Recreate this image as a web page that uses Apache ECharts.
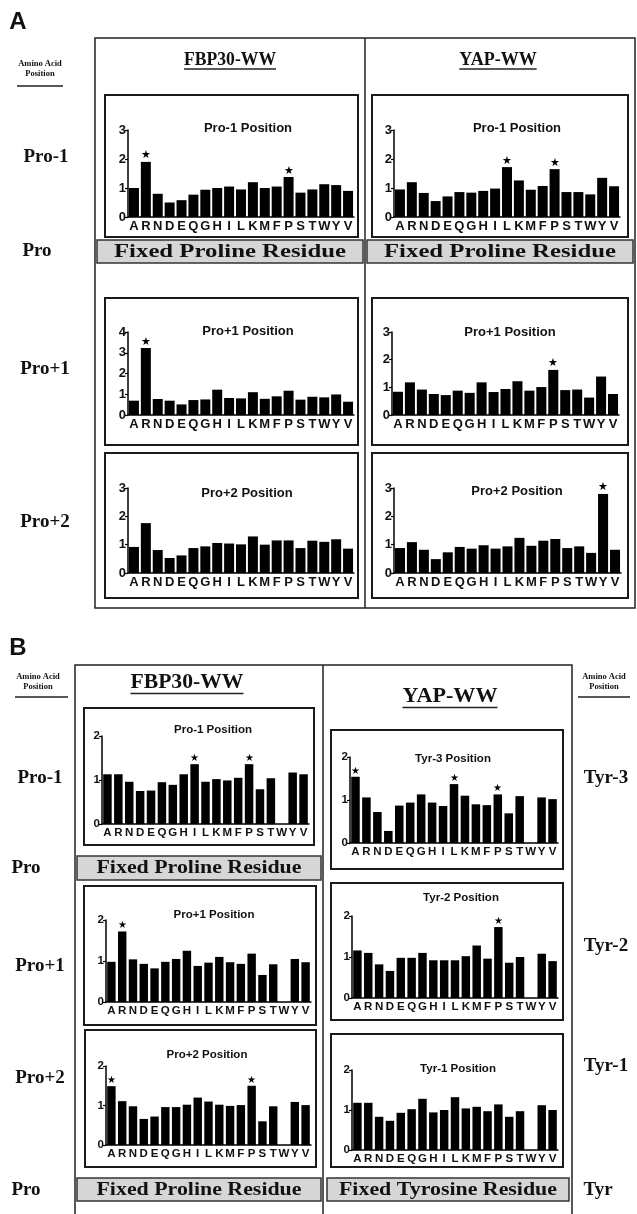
<!DOCTYPE html>
<html><head><meta charset="utf-8">
<script src="https://cdn.jsdelivr.net/npm/echarts@6/dist/echarts.min.js"></script>
<style>html,body{margin:0;padding:0;background:#fff}#c{width:637px;height:1214px}</style>
</head><body><div id="c"></div>
<script>
// ---------- DATA ----------
const residues = ['A','R','N','D','E','Q','G','H','I','L','K','M','F','P','S','T','W','Y','V'];

// Panel A
const fbp30A_proM1 = [1.00,1.90,0.80,0.50,0.58,0.77,0.94,1.00,1.05,0.95,1.20,1.00,1.05,1.38,0.84,0.95,1.13,1.10,0.90];
const yapA_proM1   = [0.95,1.20,0.83,0.55,0.71,0.86,0.84,0.90,0.98,1.72,1.26,0.94,1.07,1.65,0.86,0.86,0.78,1.35,1.06];
const fbp30A_proP1 = [0.69,3.23,0.77,0.69,0.51,0.72,0.75,1.22,0.82,0.80,1.10,0.78,0.90,1.17,0.74,0.88,0.85,0.99,0.64];
const yapA_proP1   = [0.84,1.18,0.92,0.76,0.72,0.88,0.80,1.18,0.83,0.94,1.22,0.88,1.01,1.63,0.90,0.92,0.63,1.39,0.76];
const fbp30A_proP2 = [0.92,1.76,0.81,0.53,0.62,0.88,0.94,1.06,1.04,1.01,1.29,1.00,1.15,1.15,0.88,1.14,1.10,1.19,0.86];
const yapA_proP2   = [0.88,1.09,0.82,0.49,0.73,0.92,0.86,0.98,0.86,0.94,1.24,0.96,1.14,1.20,0.88,0.94,0.71,2.79,0.82];

// Panel B (W not measured -> null)
const fbp30B_proM1 = [1.13,1.13,0.96,0.75,0.76,0.95,0.89,1.13,1.36,0.96,1.02,0.99,1.05,1.36,0.79,1.04,null,1.17,1.13];
const yapB_tyrM3   = [1.54,1.06,0.72,0.28,0.87,0.94,1.13,0.94,0.86,1.37,1.10,0.90,0.88,1.13,0.69,1.09,null,1.06,1.02];
const fbp30B_proP1 = [0.98,1.72,1.04,0.93,0.82,0.98,1.05,1.25,0.88,0.96,1.10,0.97,0.93,1.18,0.66,0.92,null,1.05,0.97];
const yapB_tyrM2   = [1.16,1.10,0.82,0.66,0.98,0.98,1.10,0.92,0.92,0.92,1.02,1.28,0.96,1.73,0.86,1.00,null,1.08,0.90];
const fbp30B_proP2 = [1.49,1.11,0.98,0.66,0.72,0.96,0.96,1.02,1.20,1.10,1.02,0.99,1.01,1.50,0.60,0.98,null,1.09,1.01];
const yapB_tyrM1   = [1.18,1.18,0.83,0.73,0.93,1.02,1.28,0.94,1.00,1.32,1.04,1.08,0.97,1.14,0.83,0.97,null,1.12,1.00];

// Significant residues (stars)
const starsA_fbpM1 = ['R','P'];
const starsA_yapM1 = ['L','P'];
const starsA_fbpP1 = ['R'];
const starsA_yapP1 = ['P'];
const starsA_fbpP2 = [];
const starsA_yapP2 = ['Y'];
const starsB_fbpM1 = ['I','P'];
const starsB_yapM3 = ['A','L','P'];
const starsB_fbpP1 = ['R'];
const starsB_yapM2 = ['P'];
const starsB_fbpP2 = ['A','P'];
const starsB_yapM1 = [];

// Axis maxima
const yMaxA = [3,3,4,3,3,3];
const yMaxB = [2,2,2,2,2,2];

// ---------- LAYOUT ----------
const SANS = "'Liberation Sans', Arial, sans-serif";
const SERIF = "'Liberation Serif', 'Times New Roman', serif";

const charts = [
  // panel A
  {v:fbp30A_proM1, s:starsA_fbpM1, max:yMaxA[0], t:'Pro-1 Position', p:'A', l:128, r:354, top:130, zero:217, box:[105,95,253,142], tp:[248,128]},
  {v:yapA_proM1,   s:starsA_yapM1, max:yMaxA[1], t:'Pro-1 Position', p:'A', l:394, r:620, top:130, zero:217, box:[372,95,256,142], tp:[517,128]},
  {v:fbp30A_proP1, s:starsA_fbpP1, max:yMaxA[2], t:'Pro+1 Position', p:'A', l:128, r:354, top:332, zero:415, box:[105,298,253,147], tp:[248,331]},
  {v:yapA_proP1,   s:starsA_yapP1, max:yMaxA[3], t:'Pro+1 Position', p:'A', l:392, r:619, top:332, zero:415, box:[372,298,256,147], tp:[510,332]},
  {v:fbp30A_proP2, s:starsA_fbpP2, max:yMaxA[4], t:'Pro+2 Position', p:'A', l:128, r:354, top:488, zero:573, box:[105,453,253,145], tp:[247,493]},
  {v:yapA_proP2,   s:starsA_yapP2, max:yMaxA[5], t:'Pro+2 Position', p:'A', l:394, r:621, top:488, zero:573, box:[372,453,256,145], tp:[517,491]},
  // panel B
  {v:fbp30B_proM1, s:starsB_fbpM1, max:yMaxB[0], t:'Pro-1 Position', p:'B', l:102, r:309, top:736, zero:824, box:[84,708,230,137], tp:[213,730]},
  {v:yapB_tyrM3,   s:starsB_yapM3, max:yMaxB[1], t:'Tyr-3 Position', p:'B', l:350, r:558, top:757, zero:843, box:[331,730,232,139], tp:[453,759]},
  {v:fbp30B_proP1, s:starsB_fbpP1, max:yMaxB[2], t:'Pro+1 Position', p:'B', l:106, r:311, top:920, zero:1002, box:[84,886,232,139], tp:[214,915]},
  {v:yapB_tyrM2,   s:starsB_yapM2, max:yMaxB[3], t:'Tyr-2 Position', p:'B', l:352, r:558, top:916, zero:998, box:[331,883,232,137], tp:[461,898]},
  {v:fbp30B_proP2, s:starsB_fbpP2, max:yMaxB[4], t:'Pro+2 Position', p:'B', l:106, r:311, top:1066, zero:1145, box:[85,1030,231,137], tp:[207,1055]},
  {v:yapB_tyrM1,   s:starsB_yapM1, max:yMaxB[5], t:'Tyr-1 Position', p:'B', l:352, r:558, top:1070, zero:1150, box:[331,1034,232,133], tp:[458,1069]}
];

const mctx = document.createElement('canvas').getContext('2d');
function measure(str, size, family, weight){ mctx.font = `${weight||'bold'} ${size}px ${family}`; return mctx.measureText(str).width; }

const graphics = [];
function txt(str, x, y, size, o){
  o = o || {};
  const fam = o.family || SERIF;
  let sx = 1;
  const natural = measure(str, size, fam, 'bold');
  if (o.w) sx = o.w / natural;
  graphics.push({type:'text', x:x, y:y, scaleX:sx, z:10,
    style:{text:str, fontSize:size, fontWeight:'bold', fontFamily:fam, fill:o.color||'#111',
      align:o.align||'center', verticalAlign:'middle', textAlign:o.align||'center', textVerticalAlign:'middle'}});
  if (o.underline){
    const w = natural*sx;
    graphics.push({type:'line', z:10, shape:{x1:x-w/2, y1:y+size*0.5, x2:x+w/2, y2:y+size*0.5}, style:{stroke:'#222', lineWidth:1.3}});
  }
}
function rect(x,y,w,h,fill,stroke,lw){
  graphics.push({type:'rect', z:1, shape:{x:x,y:y,width:w,height:h}, style:{fill:fill||'none', stroke:stroke||'#222', lineWidth:lw||1.5}});
}
function line(pts, lw){
  graphics.push({type:'polyline', z:1, shape:{points:pts}, style:{fill:'none', stroke:'#222', lineWidth:lw||1.5}});
}

// Panel letters
txt('A', 18, 22, 24, {family:SANS});
txt('B', 18, 648, 24, {family:SANS});

// Panel A table
rect(95,38,540,570,'none','#222',1.5);
line([[365,38],[365,608]]);
txt('FBP30-WW', 230, 60, 18, {w:92, underline:true});
txt('YAP-WW', 498, 60, 18, {underline:true});
txt('Amino Acid', 40, 64, 8.5);
txt('Position', 40, 74, 8.5);
line([[17,86],[63,86]], 1.3);
txt('Pro-1', 46, 157, 19);
txt('Pro', 37, 251, 19);
txt('Pro+1', 45, 369, 19);
txt('Pro+2', 45, 522, 19);
rect(97,240,266,23,'#d6d6d6','#333',1.5);
rect(367,240,266,23,'#d6d6d6','#333',1.5);
txt('Fixed Proline Residue', 230, 252, 18.5, {w:232});
txt('Fixed Proline Residue', 500, 252, 18.5, {w:232});

// Panel B table
line([[75,1214],[75,665],[572,665],[572,1214]]);
line([[323,665],[323,1214]]);
txt('FBP30-WW', 187, 683, 21, {w:113, underline:true});
txt('YAP-WW', 450, 697, 21, {w:95, underline:true});
txt('Amino Acid', 38, 677, 8.5);
txt('Position', 38, 687, 8.5);
line([[15,697],[68,697]], 1.3);
txt('Amino Acid', 604, 677, 8.5);
txt('Position', 604, 687, 8.5);
line([[578,697],[630,697]], 1.3);
txt('Pro-1', 40, 778, 19);
txt('Pro', 26, 868, 19);
txt('Pro+1', 40, 966, 19);
txt('Pro+2', 40, 1078, 19);
txt('Pro', 26, 1190, 19);
txt('Tyr-3', 606, 778, 19);
txt('Tyr-2', 606, 946, 19);
txt('Tyr-1', 606, 1066, 19);
txt('Tyr', 598, 1190, 19);
rect(77,856,244,24,'#d6d6d6','#333',1.5);
txt('Fixed Proline Residue', 199, 868, 18, {w:205});
rect(77,1178,244,23,'#d6d6d6','#333',1.5);
txt('Fixed Proline Residue', 199, 1190, 18, {w:205});
rect(327,1178,242,23,'#d6d6d6','#333',1.5);
txt('Fixed Tyrosine Residue', 448, 1190, 18, {w:218});

// ---------- CHARTS ----------
const grid = [], xAxis = [], yAxis = [], series = [];
charts.forEach((c, i) => {
  const A = c.p === 'A';
  const lblSize = A ? 13 : 11.5;
  rect(c.box[0], c.box[1], c.box[2], c.box[3], 'none', '#1a1a1a', 2);
  txt(c.t, c.tp[0], c.tp[1], A ? 13 : 11.5, {family:SANS});
  grid.push({left:c.l, top:c.top, width:c.r - c.l, height:c.zero - c.top, containLabel:false, outerBoundsMode:'none'});
  xAxis.push({gridIndex:i, type:'category', data:residues,
    axisLine:{lineStyle:{color:'#000', width:1.5}}, axisTick:{show:false}, splitLine:{show:false},
    axisLabel:{interval:0, margin:3, fontSize:lblSize, fontWeight:'bold', fontFamily:SANS, color:'#111'}});
  yAxis.push({gridIndex:i, type:'value', min:0, max:c.max, interval:1,
    axisLine:{show:true, lineStyle:{color:'#000', width:1.5}},
    axisTick:{show:true, length:3, lineStyle:{color:'#000', width:1.2}},
    splitLine:{show:false},
    axisLabel:{margin:2, fontSize:lblSize, fontWeight:'bold', fontFamily:SANS, color:'#111'}});
  const stars = c.s;
  series.push({type:'bar', xAxisIndex:i, yAxisIndex:i, data:c.v, silent:true,
    barCategoryGap: A ? '16%' : '22%',
    itemStyle:{color:'#000'},
    label:{show:true, position:'top', distance:1, fontSize: A ? 11 : 10, color:'#000',
      formatter: p => stars.indexOf(p.name) >= 0 ? '★' : ''}});
});

const chart = echarts.init(document.getElementById('c'), null, {renderer:'canvas'});
chart.setOption({
  animation:false,
  backgroundColor:'#fff',
  grid, xAxis, yAxis, series,
  graphic:{elements:graphics}
});
</script>
</body></html>
